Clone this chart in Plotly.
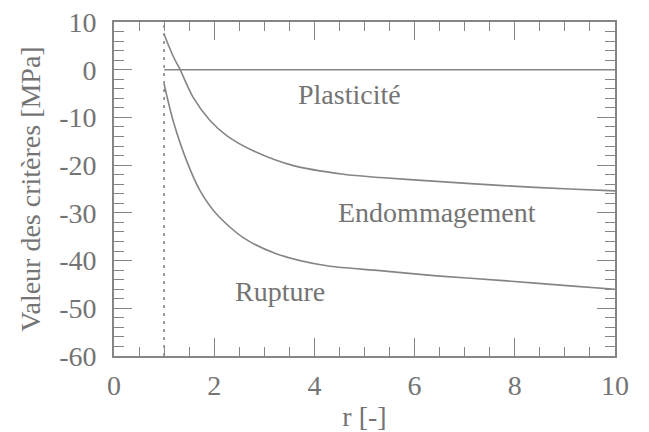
import plotly.graph_objects as go

# Criterion curves vs. normalised radius r
r_plast = [1.0, 10.0]
plasticite = [0.0, 0.0]

r_endo = [1.0, 1.1, 1.2, 1.32, 1.58, 1.92, 2.25, 2.78, 3.58, 4.58, 5.31, 6.44, 7.77, 9.1, 10.0]
endommagement = [7.5, 4.8, 2.4, 0.0, -5.8, -10.7, -13.8, -17.0, -20.1, -21.9, -22.6, -23.4, -24.3, -25.0, -25.4]

r_rupt = [1.0, 1.18, 1.45, 1.72, 2.05, 2.58, 3.25, 4.25, 5.31, 6.44, 7.77, 9.1, 10.0]
rupture = [-3.0, -10.7, -19.1, -25.4, -30.3, -35.2, -38.6, -41.1, -42.1, -43.2, -44.2, -45.3, -46.0]

# vertical limit r = 1
r_limit = [1.0, 1.0]
y_limit = [-60, 10]

# tick positions and labels (plain hyphen for negatives)
x_ticks = [0, 2, 4, 6, 8, 10]
x_ticktext = ["0", "2", "4", "6", "8", "10"]
y_ticks = [10, 0, -10, -20, -30, -40, -50, -60]
y_ticktext = ["10", "0", "-10", "-20", "-30", "-40", "-50", "-60"]

labels = ["Plasticité", "Endommagement", "Rupture"]
label_x = [4.70, 6.44, 3.32]
label_y = [-5.2, -30.0, -46.5]

LINE = "#858585"
TEXT = "#747474"
FONT = "Liberation Serif"

fig = go.Figure()
fig.add_trace(go.Scatter(x=r_limit, y=y_limit, mode="lines",
                         line=dict(color=LINE, width=1.6, dash="3px,5px")))
fig.add_trace(go.Scatter(x=r_plast, y=plasticite, mode="lines",
                         line=dict(color=LINE, width=1.6)))
fig.add_trace(go.Scatter(x=r_endo, y=endommagement, mode="lines",
                         line=dict(color=LINE, width=1.6, shape="spline", smoothing=0.8)))
fig.add_trace(go.Scatter(x=r_rupt, y=rupture, mode="lines",
                         line=dict(color=LINE, width=1.6, shape="spline", smoothing=0.8)))
# invisible trace carrying the mirrored (top/right) axes
fig.add_trace(go.Scatter(x=r_plast, y=plasticite, xaxis="x2", yaxis="y2",
                         mode="lines", line=dict(width=0), hoverinfo="skip"))

for t, x, y in zip(labels, label_x, label_y):
    fig.add_annotation(x=x, y=y, text=t, showarrow=False,
                       font=dict(family=FONT, size=28, color=TEXT),
                       xanchor="center", yanchor="middle")

axis_common = dict(
    showgrid=False, zeroline=False, showline=True, linecolor=LINE, linewidth=1.6,
    ticks="inside", tickcolor=LINE, tickwidth=1.4, ticklen=18,
    tickfont=dict(family=FONT, size=28, color=TEXT),
)
x_minor = dict(dtick=0.5, ticks="inside", ticklen=9, tickcolor=LINE, tickwidth=1.4)
y_minor = dict(dtick=2, ticks="inside", ticklen=10, tickcolor=LINE, tickwidth=1.4)

fig.update_layout(
    font=dict(family=FONT, size=28, color=TEXT),
    xaxis=dict(range=[0, 10], tickvals=x_ticks, ticktext=x_ticktext, minor=x_minor,
               title=dict(text="r [-]", font=dict(family=FONT, size=28, color=TEXT), standoff=6),
               ticklabelstandoff=4, **axis_common),
    yaxis=dict(range=[-60, 10], tickvals=y_ticks, ticktext=y_ticktext, minor=y_minor,
               title=dict(text="Valeur des critères [MPa]", font=dict(family=FONT, size=28, color=TEXT), standoff=10),
               ticklabelstandoff=10, **axis_common),
    xaxis2=dict(range=[0, 10], tickvals=x_ticks, minor=x_minor, overlaying="x", side="top",
                anchor="y", showticklabels=False, **axis_common),
    yaxis2=dict(range=[-60, 10], tickvals=y_ticks, minor=y_minor, overlaying="y", side="right",
                anchor="x", showticklabels=False, **axis_common),
)

fig.update_layout(
    width=649, height=432,
    margin=dict(l=114, r=34, t=22, b=76, autoexpand=False),
    paper_bgcolor="white", plot_bgcolor="white",
    showlegend=False,
)

fig.write_html("out.html")
